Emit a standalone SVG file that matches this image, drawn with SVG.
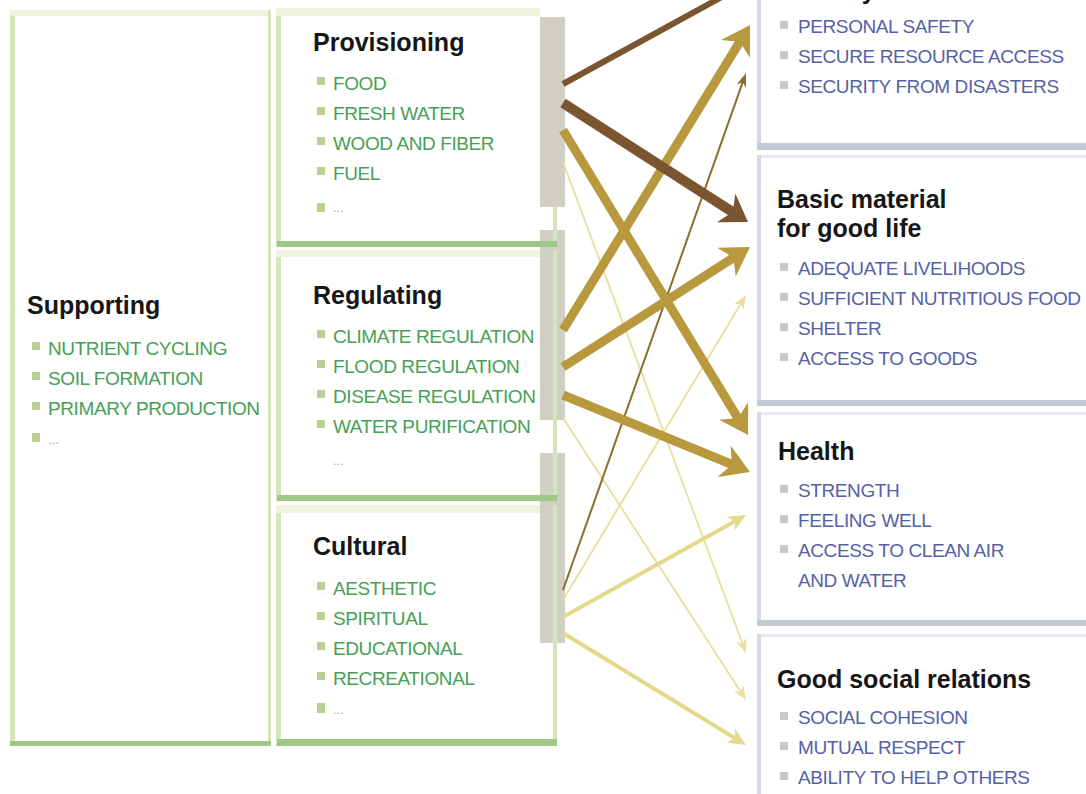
<svg xmlns="http://www.w3.org/2000/svg" width="1086" height="794" viewBox="0 0 1086 794">
<style>
.title{font-family:"Liberation Sans",Arial,sans-serif;font-weight:bold;font-size:25px;fill:#161616}
.g{font-family:"Liberation Sans",Arial,sans-serif;font-size:19px;letter-spacing:-0.4px;fill:#46a056}
.b{font-family:"Liberation Sans",Arial,sans-serif;font-size:19px;letter-spacing:-0.4px;fill:#5561a5}
.dots{font-family:"Liberation Sans",Arial,sans-serif;font-size:13px;fill:#a7aea7}
.bg{fill:#b8d192}
.bb{fill:#c6c8cc}
.box{fill:#ffffff}
.gl{fill:#d4e5bc}
.gt{fill:#eff3de}
.gb{fill:#9fc786}
.gray{fill:#d1cfc3}
.rl{fill:#d5d9e3}
.rt{fill:#e6e9ef}
.rb{fill:#c4c9d5}
.ln{fill:none;stroke-linecap:butt}
</style>
<defs>
<marker id="mBrownL" markerUnits="userSpaceOnUse" markerWidth="26" markerHeight="34" viewBox="0 0 26 34" refX="10.4" refY="17" orient="auto"><path d="M0,0 L26,17 L0,34 L7.8,17 z" fill="#7b5530"/></marker>
<marker id="mGoldL" markerUnits="userSpaceOnUse" markerWidth="28" markerHeight="34" viewBox="0 0 28 34" refX="11.2" refY="17" orient="auto"><path d="M0,0 L28,17 L0,34 L8.4,17 z" fill="#b8993d"/></marker>
<marker id="mYellowM" markerUnits="userSpaceOnUse" markerWidth="18" markerHeight="16" viewBox="0 0 18 16" refX="7.2" refY="8" orient="auto"><path d="M0,0 L18,8 L0,16 L5.4,8 z" fill="#e6d88a"/></marker>
<marker id="mYellowS" markerUnits="userSpaceOnUse" markerWidth="14" markerHeight="11" viewBox="0 0 14 11" refX="5.6" refY="5.5" orient="auto"><path d="M0,0 L14,5.5 L0,11 L4.2,5.5 z" fill="#e8de9e"/></marker>
<marker id="mBrownS" markerUnits="userSpaceOnUse" markerWidth="14" markerHeight="10" viewBox="0 0 14 10" refX="5.6" refY="5" orient="auto"><path d="M0,0 L14,5 L0,10 L4.2,5 z" fill="#8c6d2e"/></marker>
</defs>

<g id="supporting">
<rect class="box" x="10" y="10" width="261" height="736"/>
<rect class="gl" x="10" y="10" width="5" height="736"/>
<rect class="gt" x="10" y="10" width="261" height="6"/>
<rect class="gl" x="268" y="10" width="3" height="736"/>
<rect class="gb" x="10" y="741" width="261" height="5"/>
<text class="title" x="27" y="314">Supporting</text>
<rect class="bg" x="32" y="342" width="8" height="8"/><text class="g" x="48" y="355">NUTRIENT CYCLING</text>
<rect class="bg" x="32" y="372" width="8" height="8"/><text class="g" x="48" y="385">SOIL FORMATION</text>
<rect class="bg" x="32" y="402" width="8" height="8"/><text class="g" x="48" y="415">PRIMARY PRODUCTION</text>
<rect class="bg" x="32" y="433" width="8" height="9"/><text class="dots" x="48" y="444">...</text>
</g>

<g id="gray-bars">
<rect class="gray" x="540" y="17" width="25" height="190"/>
<rect class="gray" x="540" y="230" width="25" height="190"/>
<rect class="gray" x="540" y="453" width="25" height="190"/>
</g>

<g id="provisioning">
<rect class="box" x="276" y="8" width="264" height="233"/>
<rect class="gl" x="276" y="8" width="5" height="239"/>
<rect class="gt" x="276" y="8" width="264" height="8"/>
<rect class="gl" x="553" y="207" width="4" height="34"/>
<rect class="gb" x="277" y="241" width="280" height="6"/>
<text class="title" x="313" y="51">Provisioning</text>
<rect class="bg" x="317" y="77" width="8" height="8"/><text class="g" x="333" y="90">FOOD</text>
<rect class="bg" x="317" y="107" width="8" height="8"/><text class="g" x="333" y="120">FRESH WATER</text>
<rect class="bg" x="317" y="137" width="8" height="8"/><text class="g" x="333" y="150">WOOD AND FIBER</text>
<rect class="bg" x="317" y="167" width="8" height="8"/><text class="g" x="333" y="180">FUEL</text>
<rect class="bg" x="317" y="203" width="8" height="9"/><text class="dots" x="333" y="212">...</text>
</g>

<g id="regulating">
<rect class="box" x="276" y="250" width="264" height="245"/>
<rect class="gl" x="276" y="250" width="5" height="251"/>
<rect class="gt" x="276" y="250" width="264" height="7"/>
<rect class="gl" x="553" y="250" width="4" height="245"/>
<rect class="gb" x="277" y="495" width="280" height="6"/>
<text class="title" x="313" y="304">Regulating</text>
<rect class="bg" x="317" y="330" width="8" height="8"/><text class="g" x="333" y="343">CLIMATE REGULATION</text>
<rect class="bg" x="317" y="360" width="8" height="8"/><text class="g" x="333" y="373">FLOOD REGULATION</text>
<rect class="bg" x="317" y="390" width="8" height="8"/><text class="g" x="333" y="403">DISEASE REGULATION</text>
<rect class="bg" x="317" y="420" width="8" height="8"/><text class="g" x="333" y="433">WATER PURIFICATION</text>
<text class="dots" x="333" y="465">...</text>
</g>

<g id="cultural">
<rect class="box" x="276" y="505" width="264" height="234"/>
<rect class="gl" x="276" y="505" width="5" height="241"/>
<rect class="gt" x="276" y="505" width="264" height="8"/>
<rect class="gl" x="553" y="505" width="4" height="234"/>
<rect class="gb" x="277" y="739" width="280" height="7"/>
<text class="title" x="313" y="555">Cultural</text>
<rect class="bg" x="317" y="582" width="8" height="8"/><text class="g" x="333" y="595">AESTHETIC</text>
<rect class="bg" x="317" y="612" width="8" height="8"/><text class="g" x="333" y="625">SPIRITUAL</text>
<rect class="bg" x="317" y="642" width="8" height="8"/><text class="g" x="333" y="655">EDUCATIONAL</text>
<rect class="bg" x="317" y="672" width="8" height="8"/><text class="g" x="333" y="685">RECREATIONAL</text>
<rect class="bg" x="317" y="703" width="8" height="10"/><text class="dots" x="333" y="714">...</text>
</g>

<g id="security">
<rect class="box" x="757" y="-10" width="335" height="159"/>
<rect class="rl" x="757" y="-10" width="4" height="159"/>
<rect class="rb" x="757" y="143" width="335" height="7"/>
<text class="title" x="777" y="-1">Security</text>
<rect class="bb" x="780" y="21" width="8" height="8"/><text class="b" x="798" y="33">PERSONAL SAFETY</text>
<rect class="bb" x="780" y="51" width="8" height="8"/><text class="b" x="798" y="63">SECURE RESOURCE ACCESS</text>
<rect class="bb" x="780" y="81" width="8" height="8"/><text class="b" x="798" y="93">SECURITY FROM DISASTERS</text>
</g>

<g id="basic-material">
<rect class="box" x="757" y="155" width="335" height="251"/>
<rect class="rt" x="757" y="155" width="335" height="3"/>
<rect class="rl" x="757" y="155" width="4" height="251"/>
<rect class="rb" x="757" y="400" width="335" height="6"/>
<text class="title" x="777" y="208">Basic material</text>
<text class="title" x="777" y="237">for good life</text>
<rect class="bb" x="780" y="263" width="8" height="8"/><text class="b" x="798" y="275">ADEQUATE LIVELIHOODS</text>
<rect class="bb" x="780" y="293" width="8" height="8"/><text class="b" x="798" y="305">SUFFICIENT NUTRITIOUS FOOD</text>
<rect class="bb" x="780" y="323" width="8" height="8"/><text class="b" x="798" y="335">SHELTER</text>
<rect class="bb" x="780" y="353" width="8" height="8"/><text class="b" x="798" y="365">ACCESS TO GOODS</text>
</g>

<g id="health">
<rect class="box" x="757" y="412" width="335" height="214"/>
<rect class="rt" x="757" y="412" width="335" height="3"/>
<rect class="rl" x="757" y="412" width="4" height="214"/>
<rect class="rb" x="757" y="620" width="335" height="6"/>
<text class="title" x="778" y="460">Health</text>
<rect class="bb" x="780" y="485" width="8" height="8"/><text class="b" x="798" y="497">STRENGTH</text>
<rect class="bb" x="780" y="515" width="8" height="8"/><text class="b" x="798" y="527">FEELING WELL</text>
<rect class="bb" x="780" y="545" width="8" height="8"/><text class="b" x="798" y="557">ACCESS TO CLEAN AIR</text>
<text class="b" x="798" y="587">AND WATER</text>
</g>

<g id="social-relations">
<rect class="box" x="757" y="634" width="335" height="170"/>
<rect class="rt" x="757" y="634" width="335" height="3"/>
<rect class="rl" x="757" y="634" width="4" height="170"/>
<text class="title" x="777" y="688">Good social relations</text>
<rect class="bb" x="780" y="712" width="8" height="8"/><text class="b" x="798" y="724">SOCIAL COHESION</text>
<rect class="bb" x="780" y="742" width="8" height="8"/><text class="b" x="798" y="754">MUTUAL RESPECT</text>
<rect class="bb" x="780" y="772" width="8" height="8"/><text class="b" x="798" y="784">ABILITY TO HELP OTHERS</text>
</g>

<g id="connectors">
<path class="ln" d="M563,600 L741.7,302.2" stroke="#e8de9e" stroke-width="1.8" marker-end="url(#mYellowS)"/>
<path class="ln" d="M563,418 L741.5,692.9" stroke="#e8de9e" stroke-width="1.8" marker-end="url(#mYellowS)"/>
<path class="ln" d="M563,162 L743.1,645.1" stroke="#e8de9e" stroke-width="1.8" marker-end="url(#mYellowS)"/>
<path class="ln" d="M563,617 L736.6,520.3" stroke="#e6d88a" stroke-width="4" marker-end="url(#mYellowM)"/>
<path class="ln" d="M563,633 L736.8,739.3" stroke="#e6d88a" stroke-width="4" marker-end="url(#mYellowM)"/>
<path class="ln" d="M563,590 L743.2,80.9" stroke="#8c6d2e" stroke-width="2" marker-end="url(#mBrownS)"/>
<path class="ln" d="M563,330 L741.3,39.4" stroke="#b8993d" stroke-width="9" marker-end="url(#mGoldL)"/>
<path class="ln" d="M563,367 L735.9,256.1" stroke="#b8993d" stroke-width="9" marker-end="url(#mGoldL)"/>
<path class="ln" d="M563,130 L739.4,420.6" stroke="#b8993d" stroke-width="9" marker-end="url(#mGoldL)"/>
<path class="ln" d="M563,395 L734.5,465.5" stroke="#b8993d" stroke-width="9" marker-end="url(#mGoldL)"/>
<path class="ln" d="M563,84 L760,-24" stroke="#7b5530" stroke-width="6" marker-end="url(#mBrownL)"/>
<path class="ln" d="M563,103 L734.9,213.5" stroke="#7b5530" stroke-width="10" marker-end="url(#mBrownL)"/>
</g>
</svg>
